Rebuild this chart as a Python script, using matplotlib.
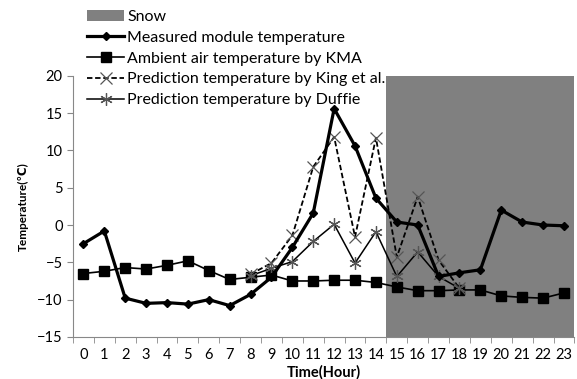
import numpy as np
import matplotlib
matplotlib.use("Agg")
import matplotlib.pyplot as plt
from matplotlib.patches import Patch
from matplotlib.lines import Line2D

plt.rcParams['font.family'] = ['Lato', 'DejaVu Sans']

# ============================
# DATA
# ============================
hours = list(range(24))
measured = [-2.5, -0.8, -9.8, -10.5, -10.4, -10.6, -10.0, -10.8, -9.3, -7.0,
            -3.0, 1.6, 15.6, 10.6, 3.6, 0.4, 0.0, -6.9, -6.4, -6.0,
            2.0, 0.4, 0.0, -0.1]
ambient = [-6.5, -6.2, -5.7, -5.9, -5.4, -4.8, -6.1, -7.3, -7.0, -6.7,
           -7.5, -7.5, -7.4, -7.4, -7.7, -8.3, -8.8, -8.8, -8.7, -8.7,
           -9.5, -9.7, -9.8, -9.1]
pred_hours = list(range(8, 19))
king = [-6.6, -5.1, -1.4, 7.8, 11.8, -1.6, 11.7, -4.3, 3.8, -4.7, -8.5]
duffie = [-6.8, -5.8, -4.9, -2.2, 0.1, -5.1, -0.9, -6.9, -3.6, -6.9, -8.5]
snow_start, snow_end = 14.5, 23.5

# ============================
# PLOT
# ============================
fig = plt.figure(figsize=(5.77, 3.79), dpi=100)
ax = fig.add_axes([0.1265, 0.111, 0.869, 0.689])

ax.axvspan(snow_start, snow_end, ymin=0, ymax=1, color='#808080', lw=0, zorder=0)

ax.plot(hours, measured, color='black', lw=2.3, marker='D', ms=4.5, zorder=4)
ax.plot(hours, ambient, color='black', lw=1.2, marker='s', ms=7.5, zorder=3)
ax.plot(pred_hours, king, color='black', lw=1.3, ls=(0, (3, 1.5)), marker='x',
        ms=8, mec='#555555', mew=0.9, zorder=3)
ax.plot(pred_hours, duffie, color='black', lw=1.1, marker=(6, 2, 0),
        ms=9, mec='#555555', mew=0.9, zorder=3)

ax.set_xlim(-0.5, 23.5)
ax.set_ylim(-15, 20)
ax.set_yticks(range(-15, 21, 5))
ax.set_xticks(hours)
ax.set_xticklabels([str(h) for h in hours], fontsize=10.5)
ax.set_xticks(np.arange(-0.5, 24, 1), minor=True)
ax.tick_params(axis='x', which='major', length=0, pad=8)
ax.tick_params(axis='x', which='minor', length=4, color='#888888')
ax.tick_params(axis='y', length=4, color='#888888', labelsize=10.5)

for s in ['top', 'right']:
    ax.spines[s].set_visible(False)
for s in ['left', 'bottom']:
    ax.spines[s].set_color('#888888')

ax.set_xlabel('Time(Hour)', fontweight='bold', fontsize=10.5, labelpad=2)
ax.set_ylabel('Temperature(℃)', fontweight='bold', fontsize=8.5, labelpad=6)

handles = [
    Patch(facecolor='#808080', edgecolor='none'),
    Line2D([], [], color='black', lw=2.3, marker='D', ms=4.5),
    Line2D([], [], color='black', lw=1.2, marker='s', ms=7.5),
    Line2D([], [], color='black', lw=1.3, ls=(0, (3, 1.5)), marker='x', ms=8,
           mec='#555555', mew=0.9),
    Line2D([], [], color='black', lw=1.1, marker=(6, 2, 0), ms=9,
           mec='#555555', mew=0.9),
]
labels = ['Snow', 'Measured module temperature', 'Ambient air temperature by KMA',
          'Prediction temperature by King et al.', 'Prediction temperature by Duffie']
fig.legend(handles, labels, loc='upper left', bbox_to_anchor=(0.135, 1.0),
           frameon=False, fontsize=11.5, handlelength=2.3, handletextpad=0.2,
           labelspacing=0.42, borderaxespad=0.2)

fig.savefig('out.png', dpi=100)
